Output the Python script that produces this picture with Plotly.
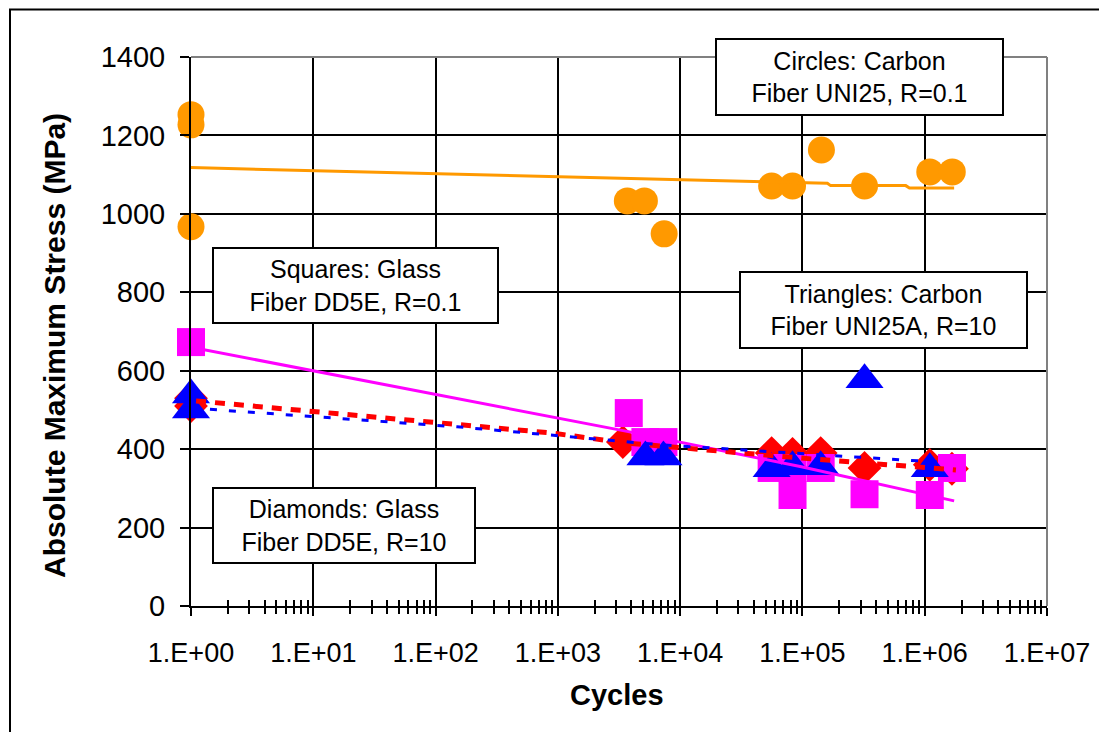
import plotly.graph_objects as go

# ---------------- data ----------------
x_tick_vals = [1, 10, 100, 1e3, 1e4, 1e5, 1e6, 1e7]
x_tick_text = ["1.E+00", "1.E+01", "1.E+02", "1.E+03", "1.E+04", "1.E+05", "1.E+06", "1.E+07"]
y_tick_vals = [0, 200, 400, 600, 800, 1000, 1200, 1400]

# Circles: Carbon Fiber UNI25, R=0.1
circ_n = [1, 1, 1, 3700, 5100, 7400, 56000, 83000, 143000, 322000, 1.1e6, 1.68e6]
circ_s = [1253, 1227, 967, 1033, 1033, 949, 1071, 1071, 1163, 1071, 1107, 1107]
circ_fit_n = [1, 1.6e5, 1.7e5, 7.0e5, 7.5e5, 1.74e6]
circ_fit_s = [1118, 1078, 1072, 1072, 1066, 1066]

# Squares: Glass Fiber DD5E, R=0.1
sq_n = [1, 3800, 5200, 7300, 56000, 83000, 83000, 141000, 322000, 1.1e6, 1.67e6]
sq_s = [673, 492, 418, 418, 352, 352, 283, 352, 285, 283, 352]
sq_fit_n = [1, 3860, 98000, 1.74e6]
sq_fit_s = [660, 444, 355, 268]

# Diamonds: Glass Fiber DD5E, R=10
dia_n = [1, 1, 3400, 56000, 83000, 141000, 322000, 1.1e6, 1.67e6]
dia_s = [530, 510, 418, 390, 388, 390, 352, 360, 350]
dia_fit_n = [1.1, 15, 900, 3500, 15000, 120000, 1.8e6]
dia_fit_s = [523, 492, 441, 416, 398, 375, 347]

# Triangles: Carbon Fiber UNI25A, R=10
tri_n = [1, 1, 5200, 7300, 56000, 83000, 141000, 322000, 1.1e6]
tri_s = [538, 500, 380, 380, 350, 355, 355, 577, 350]
tri_fit_n = [1, 150, 7000, 1.27e6]
tri_fit_s = [505, 457, 411, 367]

# ---------------- figure ----------------
fig = go.Figure()

ORANGE = "#FF9900"
MAGENTA = "#FF00FF"
RED = "#FF0000"
BLUE = "#0000FF"

fig.add_trace(go.Scatter(x=dia_n, y=dia_s, mode="markers", name="Diamonds", cliponaxis=False,
                         marker=dict(symbol="diamond", size=26, color=RED)))
fig.add_trace(go.Scatter(x=sq_n, y=sq_s, mode="markers", name="Squares", cliponaxis=False,
                         marker=dict(symbol="square", size=28, color=MAGENTA)))
fig.add_trace(go.Scatter(x=tri_n, y=tri_s, mode="markers", name="Triangles", cliponaxis=False,
                         marker=dict(symbol="triangle-up", size=33, color=BLUE)))
fig.add_trace(go.Scatter(x=circ_n, y=circ_s, mode="markers", name="Circles", cliponaxis=False,
                         marker=dict(symbol="circle", size=27, color=ORANGE)))

fig.add_trace(go.Scatter(x=sq_fit_n, y=sq_fit_s, mode="lines",
                         line=dict(color=MAGENTA, width=3)))
fig.add_trace(go.Scatter(x=circ_fit_n, y=circ_fit_s, mode="lines",
                         line=dict(color=ORANGE, width=3)))
fig.add_trace(go.Scatter(x=dia_fit_n, y=dia_fit_s, mode="lines",
                         line=dict(color=RED, width=5, dash="10px,9px")))
fig.add_trace(go.Scatter(x=tri_fit_n, y=tri_fit_s, mode="lines",
                         line=dict(color=BLUE, width=3, dash="7px,12px")))

SANS = "Liberation Sans, Arial"

# the page body adds an 8 px offset; plot area lands at x 191..1047, y 57..606
fig.update_layout(
    width=1099, height=724,
    margin=dict(l=183, r=60, t=49, b=126),
    paper_bgcolor="white", plot_bgcolor="white",
    showlegend=False,
    font=dict(family=SANS, color="black", size=21),
    xaxis=dict(
        type="log", range=[0, 7],
        tickvals=x_tick_vals, ticktext=x_tick_text,
        tickfont=dict(family=SANS, size=27, color="black"),
        ticks="outside", ticklen=8, tickwidth=2, tickcolor="black",
        ticklabelstandoff=14,
        showgrid=True, gridcolor="black", gridwidth=2,
        showline=True, linecolor="black", linewidth=2,
        zeroline=False,
        minor=dict(ticks="outside", ticklen=6, tickwidth=1.5, tickcolor="black",
                   dtick="D1", showgrid=False),
    ),
    xaxis2=dict(
        type="log", range=[0, 7], overlaying="x", side="bottom", matches="x",
        tickvals=x_tick_vals, showticklabels=False,
        ticks="inside", ticklen=0, showgrid=False, showline=False, zeroline=False,
        minor=dict(ticks="inside", ticklen=6, tickwidth=1.5, tickcolor="black",
                   dtick="D1", showgrid=False),
    ),
    yaxis=dict(
        range=[0, 1400], tickvals=y_tick_vals,
        tickfont=dict(family=SANS, size=29, color="black"),
        ticks="outside", ticklen=9, tickwidth=2, tickcolor="black",
        ticklabelstandoff=9,
        showgrid=True, gridcolor="black", gridwidth=2,
        showline=True, linecolor="black", linewidth=2,
        zeroline=False,
    ),
)

# invisible trace to activate xaxis2
fig.add_trace(go.Scatter(x=[1], y=[0], xaxis="x2", mode="markers",
                         marker=dict(opacity=0), hoverinfo="skip"))

# axis titles placed as annotations (screen position -> paper coords)
def px(xs):
    return (xs - 191) / 856

def py(ys):
    return (606 - ys) / 549

fig.add_annotation(text="<b>Absolute Maximum Stress (MPa)</b>", textangle=-90,
                   xref="paper", yref="paper", x=px(54), y=py(346),
                   xanchor="center", yanchor="middle", showarrow=False,
                   font=dict(family=SANS, size=30, color="black"))
fig.add_annotation(text="<b>Cycles</b>",
                   xref="paper", yref="paper", x=px(617), y=py(695),
                   xanchor="center", yanchor="middle", showarrow=False,
                   font=dict(family=SANS, size=29, color="black"))

# gray top / right plot border and outer frame
fig.add_shape(type="line", xref="paper", yref="paper", x0=0, x1=1, y0=1, y1=1,
              line=dict(color="#808080", width=2), layer="above")
fig.add_shape(type="line", xref="paper", yref="paper", x0=1, x1=1, y0=0, y1=1,
              line=dict(color="#808080", width=2), layer="above")
fig.add_shape(type="rect", xref="paper", yref="paper",
              x0=px(10), x1=px(1125), y0=py(750), y1=py(9.5),
              line=dict(color="black", width=2), layer="above")

boxes = [
    ("Circles: Carbon<br>Fiber UNI25, R=0.1", 859.5, 77, 281, 70),
    ("Squares: Glass<br>Fiber DD5E, R=0.1", 355.5, 285.5, 279, 69),
    ("Triangles: Carbon<br>Fiber UNI25A, R=10", 883.5, 310, 281, 70),
    ("Diamonds: Glass<br>Fiber DD5E, R=10", 344, 525.5, 256, 69),
]
for text, cx, cy, w, h in boxes:
    fig.add_annotation(text=text, xref="paper", yref="paper",
                       x=px(cx), y=py(cy),
                       xanchor="center", yanchor="middle", showarrow=False,
                       width=w, height=h, bgcolor="white",
                       bordercolor="black", borderwidth=2, borderpad=2,
                       font=dict(family=SANS, size=25, color="black"))

fig.write_html("out.html")
